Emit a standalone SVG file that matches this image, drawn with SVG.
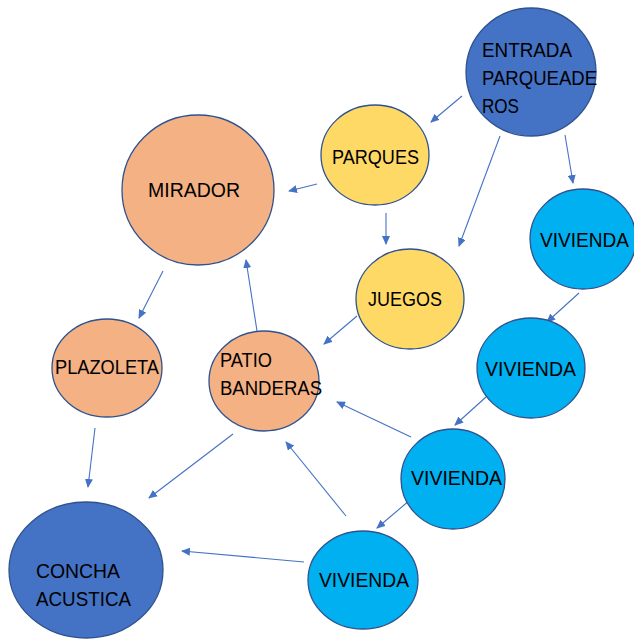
<svg xmlns="http://www.w3.org/2000/svg" width="634" height="639" viewBox="0 0 634 639">
<defs>
<marker id="ah" markerWidth="9" markerHeight="8" refX="8" refY="4" orient="auto" markerUnits="userSpaceOnUse">
<path d="M0,0 L9,4 L0,8 z" fill="#4472C4"/>
</marker>
<style>
.n{stroke:#2F528F;stroke-width:1.3}
.dk{fill:#4472C4}.ye{fill:#FFD966}.or{fill:#F4B183}.cy{fill:#00B0F0}
text{font-family:"Liberation Sans",Arial,sans-serif;font-size:20.5px;fill:#000}
.e line{stroke:#4472C4;stroke-width:1.1;marker-end:url(#ah)}
</style>
</defs>
<rect width="634" height="639" fill="#fff"/>
<g class="e" id="connectors">
<line x1="462" y1="96" x2="431" y2="122"/>
<line x1="500" y1="136" x2="459" y2="246"/>
<line x1="565" y1="135" x2="573" y2="183"/>
<line x1="317" y1="184" x2="289" y2="191"/>
<line x1="386" y1="213" x2="386" y2="244"/>
<line x1="163" y1="271" x2="139" y2="318"/>
<line x1="257" y1="331" x2="246" y2="260"/>
<line x1="357" y1="316" x2="324" y2="344"/>
<line x1="579" y1="293" x2="547" y2="322"/>
<line x1="486" y1="397" x2="455" y2="425"/>
<line x1="411" y1="437" x2="337" y2="402"/>
<line x1="410" y1="500" x2="377" y2="528"/>
<line x1="346" y1="516" x2="286" y2="442"/>
<line x1="233" y1="434" x2="149" y2="498"/>
<line x1="95" y1="428" x2="88" y2="487"/>
<line x1="304" y1="562" x2="182" y2="551"/>
</g>
<g id="entrada"><ellipse class="n dk" cx="531" cy="72" rx="65" ry="64"/>
<text x="482" y="57" textLength="90" lengthAdjust="spacingAndGlyphs">ENTRADA</text><text x="482" y="85" textLength="115" lengthAdjust="spacingAndGlyphs">PARQUEADE</text><text x="482" y="113" textLength="37" lengthAdjust="spacingAndGlyphs">ROS</text></g>
<g id="parques"><ellipse class="n ye" cx="375" cy="155" rx="54" ry="50"/><text x="332" y="164" textLength="87" lengthAdjust="spacingAndGlyphs">PARQUES</text></g>
<g id="mirador"><ellipse class="n or" cx="198" cy="190" rx="76" ry="75"/><text x="148" y="197" textLength="92" lengthAdjust="spacingAndGlyphs">MIRADOR</text></g>
<g id="juegos"><ellipse class="n ye" cx="410" cy="299" rx="54" ry="50"/><text x="368" y="306" textLength="74" lengthAdjust="spacingAndGlyphs">JUEGOS</text></g>
<g id="vivienda1"><ellipse class="n cy" cx="583" cy="239" rx="53" ry="50"/><text x="540" y="247" style="font-size:19.5px" textLength="89" lengthAdjust="spacingAndGlyphs">VIVIENDA</text></g>
<g id="vivienda2"><ellipse class="n cy" cx="531" cy="368" rx="54" ry="50"/><text x="485" y="376" textLength="91" lengthAdjust="spacingAndGlyphs">VIVIENDA</text></g>
<g id="vivienda3"><ellipse class="n cy" cx="453" cy="479" rx="52" ry="50"/><text x="411" y="485" textLength="91" lengthAdjust="spacingAndGlyphs">VIVIENDA</text></g>
<g id="vivienda4"><ellipse class="n cy" cx="363" cy="580" rx="55" ry="49"/><text x="319" y="587" textLength="90" lengthAdjust="spacingAndGlyphs">VIVIENDA</text></g>
<g id="plazoleta"><ellipse class="n or" cx="107" cy="368" rx="55" ry="49"/><text x="55" y="374" textLength="104" lengthAdjust="spacingAndGlyphs">PLAZOLETA</text></g>
<g id="patio"><ellipse class="n or" cx="264" cy="381" rx="55" ry="50"/><text x="220" y="367" textLength="52" lengthAdjust="spacingAndGlyphs">PATIO</text><text x="220" y="395" textLength="102" lengthAdjust="spacingAndGlyphs">BANDERAS</text></g>
<g id="concha"><ellipse class="n dk" cx="86" cy="570" rx="77" ry="68"/><text x="36" y="578" textLength="84" lengthAdjust="spacingAndGlyphs">CONCHA</text><text x="36" y="606" textLength="95" lengthAdjust="spacingAndGlyphs">ACUSTICA</text></g>
</svg>
